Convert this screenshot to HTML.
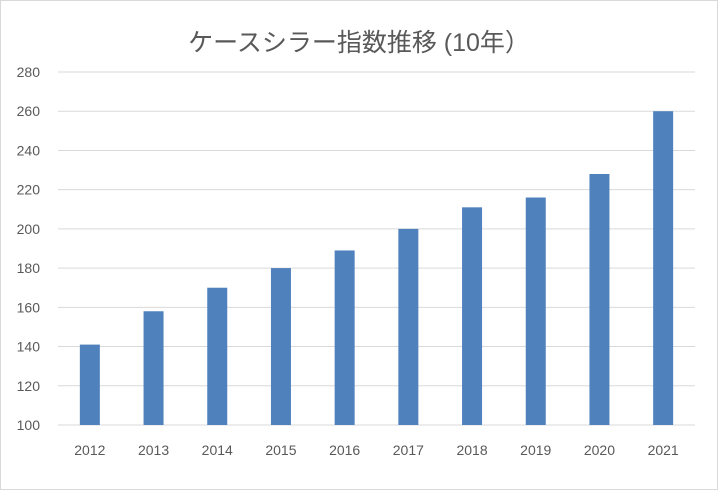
<!DOCTYPE html>
<html><head><meta charset="utf-8"><style>
body{margin:0;background:#fff;}
svg{display:block;font-family:"Liberation Sans","Noto Sans CJK JP",sans-serif;}
</style></head><body>
<svg id="chart" width="719" height="491">
<rect x="0.5" y="0.5" width="717" height="489" fill="#fff" stroke="#d9d9d9"/>
<text x="359" y="51" text-anchor="middle" font-size="25" fill="#595959">ケースシラー指数推移 (10年）</text>
<g id="grid"></g><g id="bars"></g><g id="xl"></g>
</svg>
<script>
const categories=["2012","2013","2014","2015","2016","2017","2018","2019","2020","2021"];
const values=[141,158,170,180,189,200,211,216,228,260];
const yTicks=[100,120,140,160,180,200,220,240,260,280];
const ns="http://www.w3.org/2000/svg";
const L=58,R=695,T=72,B=425,ymin=100,ymax=280;
const y=v=>B-(v-ymin)/(ymax-ymin)*(B-T);
const step=(R-L)/categories.length;
const x=i=>L+step*(i+0.5);
function mk(t,a,p){const e=document.createElementNS(ns,t);for(const k in a)e.setAttribute(k,a[k]);p.appendChild(e);return e;}
const g=document.getElementById('grid');
yTicks.forEach(v=>{
 const l=mk('line',{x1:L,x2:R,y1:y(v),y2:y(v),stroke:'#d9d9d9','stroke-width':1},g);
 
 
 const t=mk('text',{x:40,y:y(v)+5,'text-anchor':'end','font-size':14,fill:'#595959'},g);
 t.textContent=v;
 
 
});
const bg=document.getElementById('bars'),xg=document.getElementById('xl');
categories.forEach((c,i)=>{
 const r=mk('rect',{x:x(i)-10,y:y(values[i]),width:20,height:B-y(values[i]),fill:'#4f81bd'},bg);
 
 
 const t=mk('text',{x:x(i),y:455,'text-anchor':'middle','font-size':14,fill:'#595959'},xg);
 t.textContent=c;
 
 
});
</script>
</body></html>
